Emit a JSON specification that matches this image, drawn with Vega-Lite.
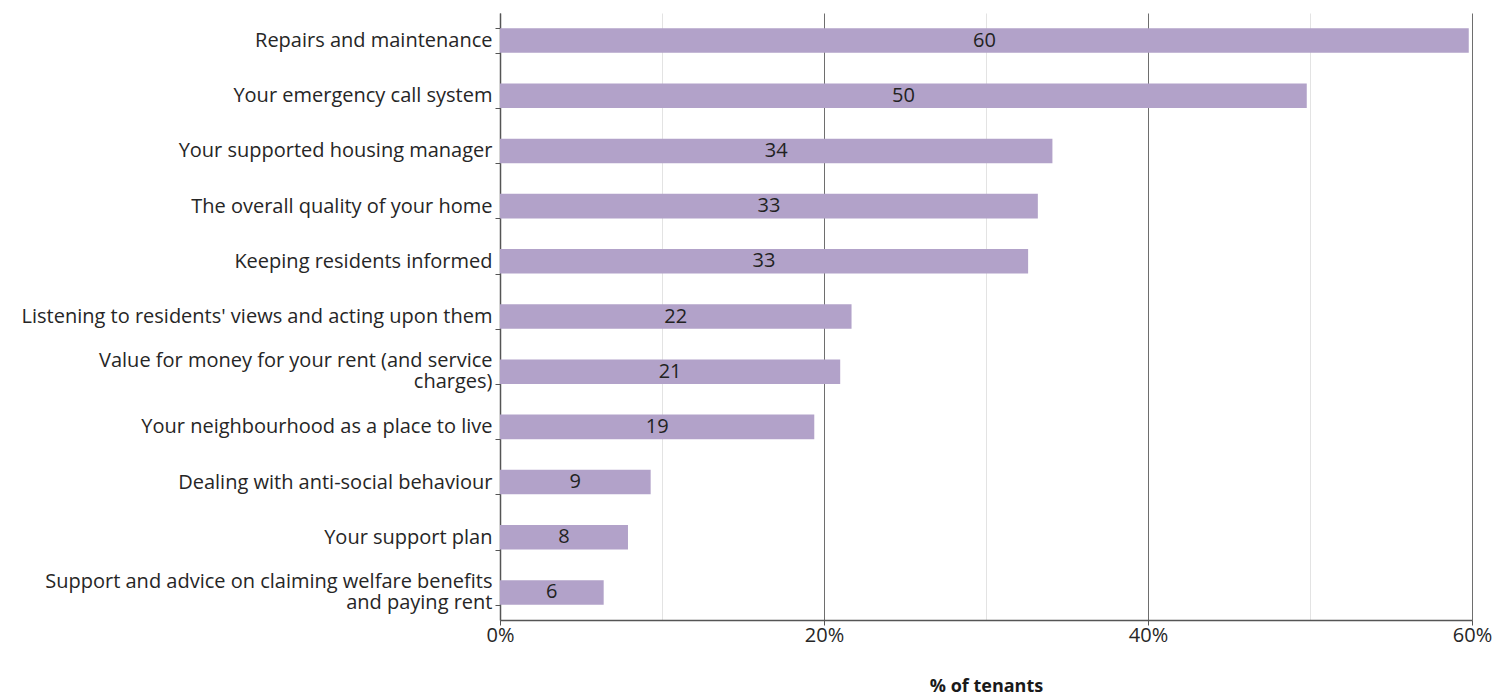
{
  "$schema": "https://vega.github.io/schema/vega-lite/v6.json",
  "width": 972,
  "height": 607,
  "autosize": {"type": "none"},
  "padding": {"left": 500, "top": 13, "right": 24, "bottom": 76},
  "background": "white",
  "config": {
    "view": {"stroke": null},
    "font": "Open Sans"
  },
  "data": {
    "values": [
      {"item": "Repairs and maintenance", "pct": 59.8, "label": "60"},
      {"item": "Your emergency call system", "pct": 49.8, "label": "50"},
      {"item": "Your supported housing manager", "pct": 34.1, "label": "34"},
      {"item": "The overall quality of your home", "pct": 33.2, "label": "33"},
      {"item": "Keeping residents informed", "pct": 32.6, "label": "33"},
      {"item": "Listening to residents' views and acting upon them", "pct": 21.7, "label": "22"},
      {"item": "Value for money for your rent (and service|charges)", "pct": 21.0, "label": "21"},
      {"item": "Your neighbourhood as a place to live", "pct": 19.4, "label": "19"},
      {"item": "Dealing with anti-social behaviour", "pct": 9.3, "label": "9"},
      {"item": "Your support plan", "pct": 7.9, "label": "8"},
      {"item": "Support and advice on claiming welfare benefits|and paying rent", "pct": 6.4, "label": "6"}
    ]
  },
  "encoding": {
    "y": {
      "field": "item",
      "type": "nominal",
      "sort": {"field": "pct", "order": "descending"},
      "scale": {"paddingInner": 0.555, "paddingOuter": 0.2775},
      "axis": {
        "title": null,
        "labelExpr": "split(datum.label, '|')",
        "labelFontSize": 20,
        "labelColor": "#262626",
        "labelPadding": 3,
        "labelLimit": 700,
        "labelLineHeight": 21,
        "labelBaseline": {"condition": {"test": "isString(datum.value) && indexof(datum.value, '|') >= 0", "value": "line-bottom"}, "value": "middle"},
        "tickBand": "extent",
        "tickSize": 5,
        "tickColor": "#555555",
        "domainColor": "#555555",
        "domainWidth": 1.5,
        "grid": false
      }
    }
  },
  "layer": [
    {
      "mark": {"type": "bar", "color": "#b2a2c9"},
      "encoding": {
        "x": {
          "field": "pct",
          "type": "quantitative",
          "scale": {"domain": [0, 60], "nice": false},
          "axis": {
            "values": [0, 20, 40, 60],
            "labelExpr": "datum.value + '%'",
            "labelFontSize": 20,
            "labelColor": "#262626",
            "labelPadding": 0,
            "labelFlush": false,
            "tickSize": 5,
            "tickColor": "#555555",
            "domainColor": "#555555",
            "domainWidth": 1.5,
            "grid": true,
            "gridColor": "#6e6e6e",
            "gridWidth": 1,
            "title": "% of tenants",
            "titleFontSize": 18,
            "titleFontWeight": "bold",
            "titleColor": "#1a1a1a",
            "titlePadding": 32
          }
        }
      }
    },
    {
      "mark": {"type": "text", "fontSize": 20, "color": "#222222", "font": "Open Sans"},
      "encoding": {
        "x": {
          "field": "pct",
          "type": "quantitative",
          "scale": {"domain": [0, 120], "nice": false},
          "axis": {
            "values": [20, 60, 100],
            "grid": true,
            "gridColor": "#e3e3e3",
            "gridWidth": 1,
            "labels": false,
            "ticks": false,
            "domain": false,
            "title": null
          }
        },
        "text": {"field": "label"}
      }
    }
  ],
  "resolve": {"scale": {"x": "independent"}, "axis": {"x": "independent"}}
}
